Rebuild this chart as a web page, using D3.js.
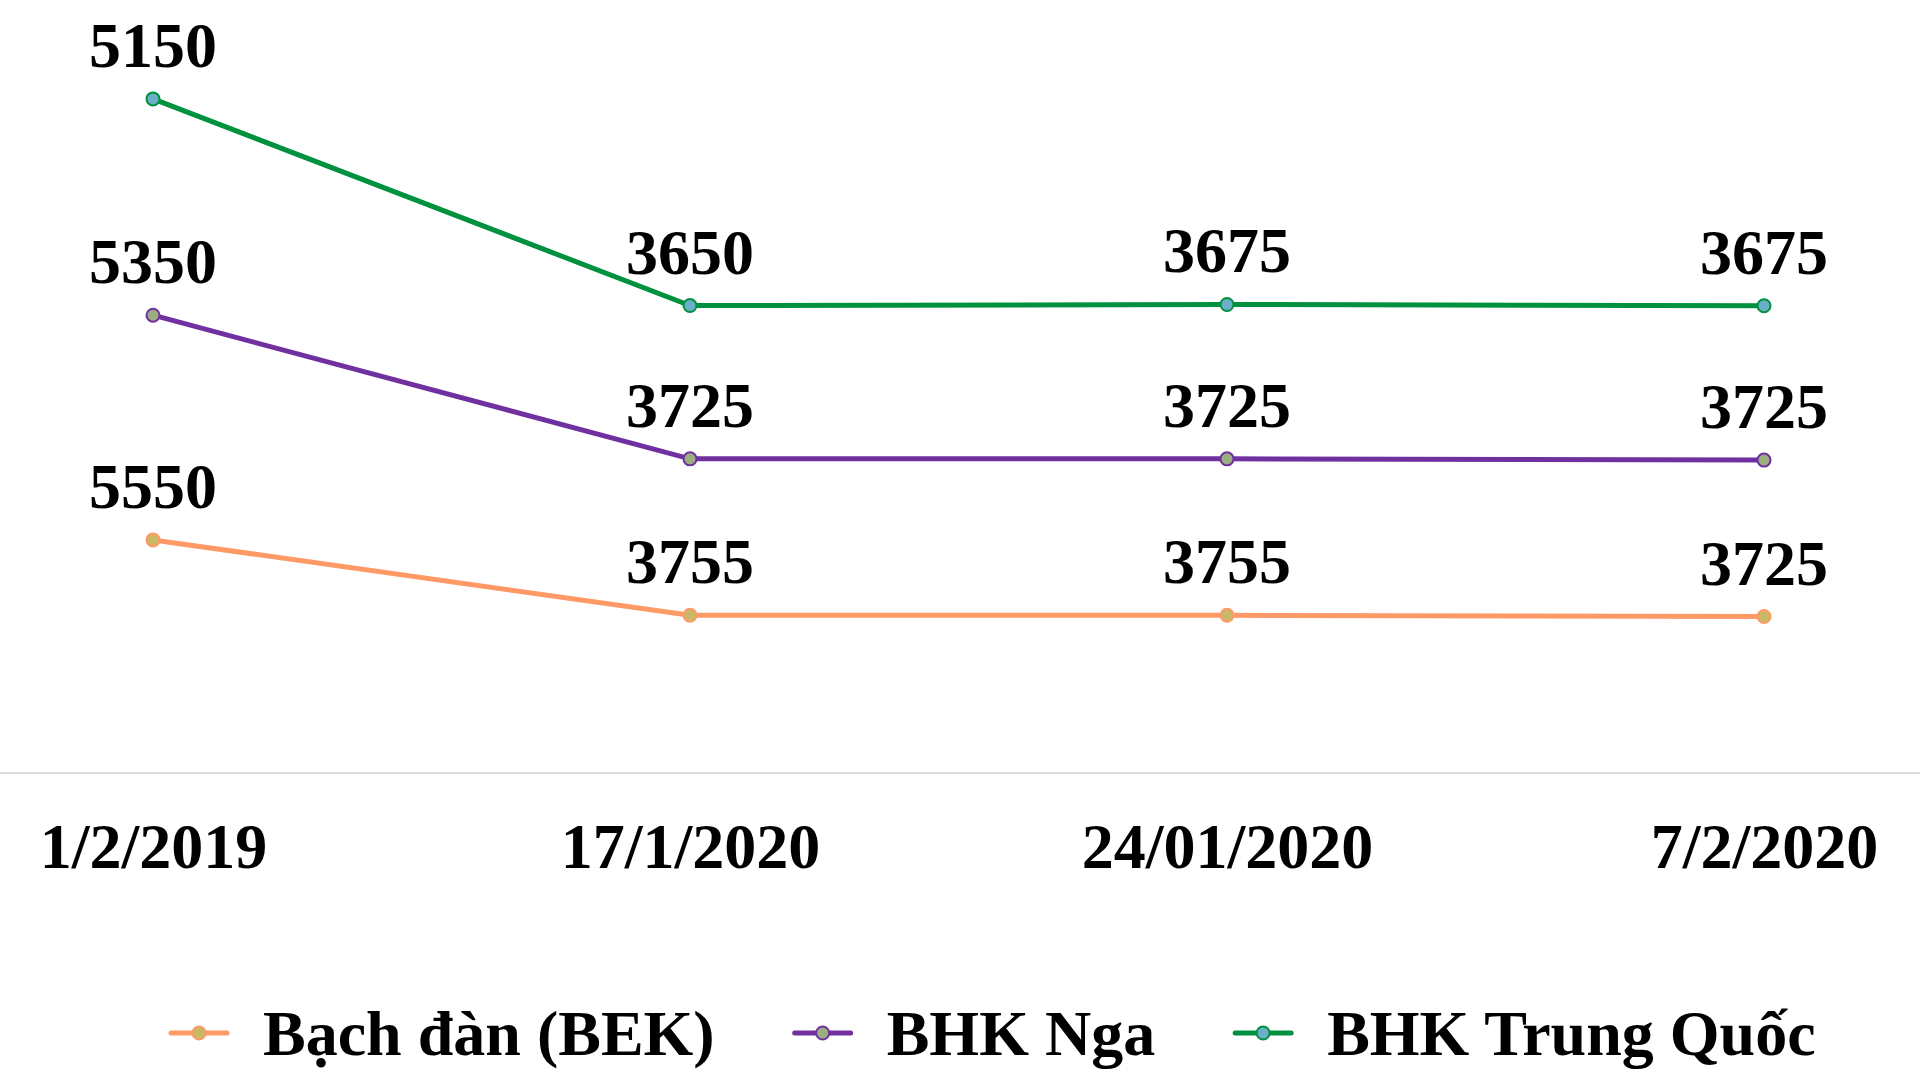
<!DOCTYPE html>
<html>
<head>
<meta charset="utf-8">
<script src="https://cdn.jsdelivr.net/npm/d3@7"></script>
<style>
  html, body { margin: 0; padding: 0; background: #fff; }
  svg { display: block; font-family: "Liberation Serif", "Times New Roman", serif; font-weight: bold; }
</style>
</head>
<body>
<svg id="chart"></svg>
<script>
// data
var categories = ["1/2/2019", "17/1/2020", "24/01/2020", "7/2/2020"];
var seriesNames = ["Bạch đàn (BEK)", "BHK Nga", "BHK Trung Quốc"];
var bachDan = [5550, 3755, 3755, 3725];
var bhkNga = [5350, 3725, 3725, 3725];
var bhkTrungQuoc = [5150, 3650, 3675, 3675];
var lineColors = ["#ff9966", "#7030a0", "#00913f"];
var dotColors = ["#c9b865", "#9cae80", "#6aaec8"];

var width = 1920, height = 1082;
var margin = { top: 17, bottom: 309, left: 153, right: 156 };

var svg = d3.select("#chart").attr("width", width).attr("height", height);

// stacked lines, like the original
var rows = categories.map(function (c, i) {
  return { cat: c, s0: bachDan[i], s1: bhkNga[i], s2: bhkTrungQuoc[i] };
});
var stack = d3.stack().keys(["s0", "s1", "s2"]);
var layers = stack(rows);
var raw = [bachDan, bhkNga, bhkTrungQuoc];

var xScale = d3.scalePoint().domain(categories).range([margin.left, width - margin.right]);
var yScale = d3.scaleLinear().domain([0, 18000]).range([height - margin.bottom, margin.top]);

// x axis: thin grey baseline across the whole width
var axisY = yScale(0);
svg.append("line")
  .attr("x1", 0).attr("x2", width)
  .attr("y1", axisY).attr("y2", axisY)
  .attr("stroke", "#d9d9d9").attr("stroke-width", 2);

var xAxis = svg.append("g")
  .attr("class", "axis-x")
  .attr("transform", "translate(0," + axisY + ")")
  .call(d3.axisBottom(xScale).tickSize(0).tickPadding(0));
xAxis.select(".domain").remove();
xAxis.selectAll("text")
  .attr("dy", null)
  .attr("y", 95)
  .attr("fill", "#000")
  .style("font-family", "'Liberation Serif', 'Times New Roman', serif")
  .style("font-weight", "bold")
  .style("font-size", "64px");

var line = d3.line()
  .x(function (d) { return xScale(d.data.cat); })
  .y(function (d) { return yScale(d[1]); });

var groups = svg.selectAll(".series").data(layers)
  .enter().append("g")
  .attr("class", "series");

groups.append("path")
  .attr("d", function (d) { return line(d); })
  .attr("fill", "none")
  .attr("stroke", function (d, i) { return lineColors[i]; })
  .attr("stroke-width", 5);

groups.each(function (layer, si) {
  var g = d3.select(this);
  g.selectAll("circle").data(layer)
    .enter().append("circle")
    .attr("cx", function (d) { return xScale(d.data.cat); })
    .attr("cy", function (d) { return yScale(d[1]); })
    .attr("r", 6.5)
    .attr("fill", dotColors[si])
    .attr("stroke", lineColors[si])
    .attr("stroke-width", 2);
  g.selectAll("text").data(layer)
    .enter().append("text")
    .attr("x", function (d) { return xScale(d.data.cat); })
    .attr("y", function (d) { return yScale(d[1]) - 32; })
    .attr("text-anchor", "middle")
    .attr("font-size", 64)
    .attr("fill", "#000")
    .text(function (d, i) { return raw[si][i]; });
});

// legend along the bottom
var legend = svg.append("g").attr("class", "legend");
var lx = 171, ly = 1033;
seriesNames.forEach(function (name, i) {
  legend.append("line")
    .attr("x1", lx).attr("x2", lx + 56)
    .attr("y1", ly).attr("y2", ly)
    .attr("stroke", lineColors[i]).attr("stroke-width", 5)
    .attr("stroke-linecap", "round");
  legend.append("circle")
    .attr("cx", lx + 28).attr("cy", ly).attr("r", 6.5)
    .attr("fill", dotColors[i])
    .attr("stroke", lineColors[i]).attr("stroke-width", 2);
  var t = legend.append("text")
    .attr("x", lx + 92).attr("y", ly + 22)
    .attr("font-size", 64)
    .attr("fill", "#000")
    .text(name);
  lx = lx + 92 + t.node().getComputedTextLength() + 80;
});
</script>
</body>
</html>
